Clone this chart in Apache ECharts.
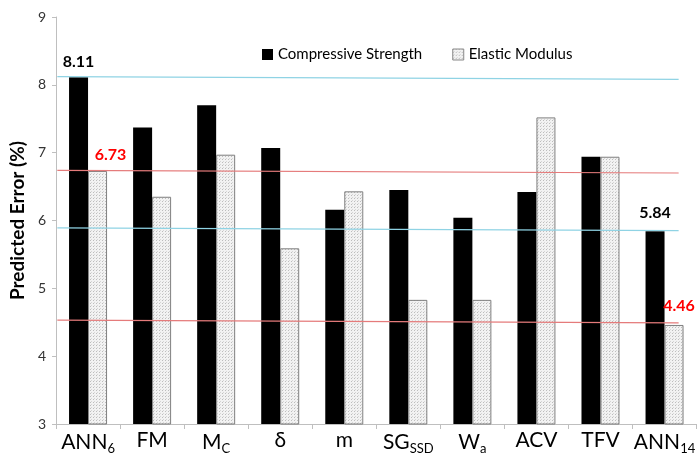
<!DOCTYPE html>
<html><head><meta charset="utf-8">
<script src="https://cdn.jsdelivr.net/npm/echarts@6/dist/echarts.min.js"></script>
<style>html,body{margin:0;padding:0;background:#fff}#c{width:698px;height:455px}</style>
</head><body><div id="c"></div>
<script>
const categories = ['ANN_6','FM','M_C','δ','m','SG_SSD','W_a','ACV','TFV','ANN_14'];
const compressive = [8.11, 7.37, 7.70, 7.07, 6.16, 6.45, 6.04, 6.42, 6.94, 5.84];
const elastic = [6.73, 6.35, 6.97, 5.59, 6.43, 4.83, 4.83, 7.52, 6.94, 4.46];
const yTicks = [3, 4, 5, 6, 7, 8, 9];
// reference lines: [start, end] values across plot width (fraction 0..1)
const refX = [0.002, 0.972];
const cyanTop = [8.12, 8.08];
const redTop = [6.74, 6.70];
const cyanLow = [5.89, 5.85];
const redLow = [4.53, 4.49];

const FONT = 'Lato, "Open Sans", sans-serif';

// dotted pattern
const pc = document.createElement('canvas');
pc.width = 3; pc.height = 3;
const px = pc.getContext('2d');
px.fillStyle = '#f2f2f2'; px.fillRect(0,0,3,3);
px.fillStyle = '#bdbdbd'; px.fillRect(0,0,1,1);
px.fillStyle = '#d6d6d6'; px.fillRect(1,2,1,1);
const dotted = {image: pc, repeat: 'repeat'};

function fmtCat(v){
  const i = v.indexOf('_');
  if (i < 0) return '{a|' + v + '}';
  return '{a|' + v.slice(0,i) + '}{s|' + v.slice(i+1) + '}';
}

const csData = compressive.map((v,i)=>{
  const d = {value: v};
  if (i === 0 || i === categories.length-1) {
    d.label = {show:true, position:'top', distance: i===0 ? 8 : 11, color:'#000', fontWeight:'bold', fontSize:16, fontFamily:FONT, formatter:(p)=>p.value.toFixed(2)};
  }
  return d;
});
const elData = elastic.map((v,i)=>{
  const d = {value: v};
  if (i === 0) {
    d.label = {show:true, position:'top', distance:8, offset:[13,0], color:'#ff0000', fontWeight:'bold', fontSize:16, fontFamily:FONT, formatter:(p)=>p.value.toFixed(2)};
  } else if (i === categories.length-1) {
    d.label = {show:true, position:'top', distance:11, offset:[5,0], color:'#ff0000', fontWeight:'bold', fontSize:16, fontFamily:FONT, formatter:(p)=>p.value.toFixed(2)};
  }
  return d;
});

function refLine(vals, color){
  return {
    type:'line', xAxisIndex:1, yAxisIndex:0, symbol:'none', silent:true, z:5,
    data: [[refX[0], vals[0]], [refX[1], vals[1]]],
    lineStyle:{color: color, width:1.2}
  };
}

const chart = echarts.init(document.getElementById('c'), null, {renderer:'canvas'});
chart.setOption({
  animation:false,
  backgroundColor:'#fff',
  grid:{left:56, top:17, bottom:28, width:645, containLabel:false},
  legend:{
    top:42, left:257, itemWidth:11, itemHeight:11, itemGap:30, icon:'rect',
    textStyle:{fontFamily:FONT, fontSize:15, color:'#000'},
    data:[{name:'Compressive Strength', itemStyle:{color:'#000', borderWidth:0}},
          {name:'Elastic Modulus', itemStyle:{color:dotted, borderColor:'#888', borderWidth:1}}]
  },
  xAxis:[{
    type:'category', data:categories,
    axisLine:{lineStyle:{color:'#bfbfbf', width:1}},
    axisTick:{show:true, length:5, lineStyle:{color:'#bfbfbf'}},
    axisLabel:{margin:6, interval:0, formatter:fmtCat,
      rich:{a:{fontFamily:FONT, fontSize:21, color:'#000'},
            s:{fontFamily:FONT, fontSize:13, color:'#000', padding:[12,0,0,0]}}}
  },{
    type:'value', min:0, max:1, show:false
  }],
  yAxis:{
    type:'value', min:yTicks[0], max:yTicks[yTicks.length-1], interval:1,
    name:'Predicted Error (%)', nameLocation:'middle', nameGap:29, nameRotate:90,
    nameTextStyle:{fontFamily:FONT, fontSize:19, fontWeight:'bold', color:'#000'},
    axisLine:{show:true, lineStyle:{color:'#bfbfbf'}},
    axisTick:{show:true, length:4, lineStyle:{color:'#bfbfbf'}},
    splitLine:{show:false},
    axisLabel:{fontFamily:FONT, fontSize:14, color:'#333', margin:10}
  },
  series:[
    {name:'Compressive Strength', type:'bar', data:csData, barWidth:19, barGap:'0%',
     itemStyle:{color:'#000'}},
    {name:'Elastic Modulus', type:'bar', data:elData, barWidth:19,
     itemStyle:{color:dotted, borderColor:'#7f7f7f', borderWidth:1}},
    refLine(cyanTop, '#8fd3e4'),
    refLine(redTop, '#e57b7b'),
    refLine(cyanLow, '#8fd3e4'),
    refLine(redLow, '#e57b7b')
  ]
});
</script></body></html>
